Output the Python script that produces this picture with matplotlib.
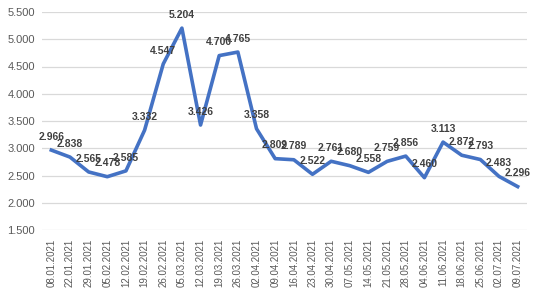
import matplotlib
matplotlib.use("Agg")
import matplotlib.pyplot as plt
from matplotlib.ticker import FuncFormatter

dates = ["08.01.2021", "22.01.2021", "29.01.2021", "05.02.2021", "12.02.2021",
         "19.02.2021", "26.02.2021", "05.03.2021", "12.03.2021", "19.03.2021",
         "26.03.2021", "02.04.2021", "09.04.2021", "16.04.2021", "23.04.2021",
         "30.04.2021", "07.05.2021", "14.05.2021", "21.05.2021", "28.05.2021",
         "04.06.2021", "11.06.2021", "18.06.2021", "25.06.2021", "02.07.2021",
         "09.07.2021"]
values = [2966, 2838, 2565, 2478, 2585, 3332, 4547, 5204, 3426, 4700, 4765,
          3358, 2809, 2789, 2522, 2761, 2680, 2558, 2759, 2856, 2460, 3113,
          2872, 2793, 2483, 2296]
yticks = [1500, 2000, 2500, 3000, 3500, 4000, 4500, 5000, 5500]

plt.rcParams['font.family'] = ['Liberation Sans', 'DejaVu Sans']

W, H = 541, 298
fig = plt.figure(figsize=(W / 100, H / 100), dpi=100)
ax = fig.add_axes([42 / W, 1 - 230 / H, (527 - 42) / W, (230 - 12) / H])

x = list(range(len(dates)))
ax.plot(x, values, color="#4472C4", linewidth=2.6, solid_joinstyle="round", zorder=3)

def fmt(v):
    return f"{v:,.0f}".replace(",", ".")

for xi, v in zip(x, values):
    ax.annotate(fmt(v), (xi, v), xytext=(0, 6), textcoords="offset points",
                ha="center", va="bottom", fontsize=7.5, fontweight="bold",
                color="#404040", zorder=4)

ax.set_xlim(-0.5, len(dates) - 0.5)
ax.set_ylim(1500, 5500)
ax.set_yticks(yticks)
ax.yaxis.set_major_formatter(FuncFormatter(lambda v, p: fmt(v)))
ax.set_xticks(x)
ax.set_xticklabels(dates, rotation=90)
ax.tick_params(axis="both", length=0, colors="#595959")
ax.tick_params(axis="x", pad=6, labelsize=7)
ax.tick_params(axis="y", pad=5, labelsize=8)
ax.grid(axis="y", color="#D9D9D9", linewidth=0.9)
ax.set_axisbelow(True)
for s in ax.spines.values():
    s.set_visible(False)

fig.savefig("out.png", dpi=100)
